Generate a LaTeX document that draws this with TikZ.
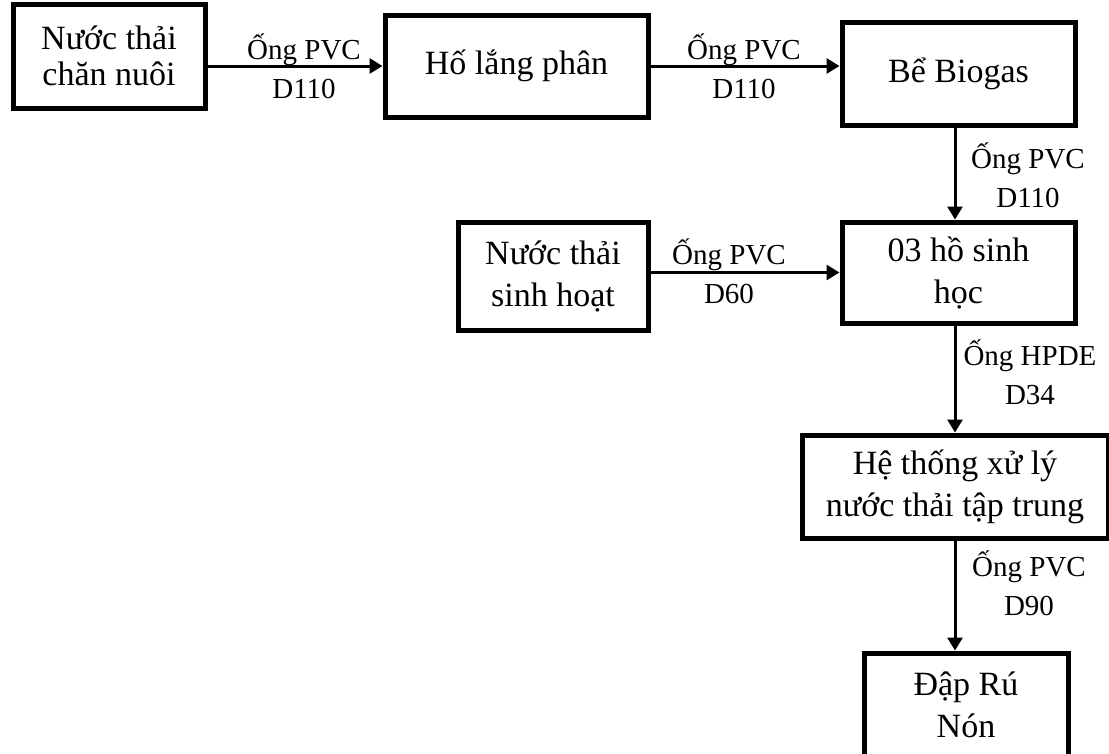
\documentclass[tikz,border=0pt]{standalone}
\usepackage{fontspec}
\setmainfont{Liberation Serif}
\usepackage{tikz}
\usetikzlibrary{arrows.meta, positioning}

\begin{document}
\begin{tikzpicture}[x=1pt, y=-1pt,
    >={Triangle[length=13pt, width=15pt]},
    hop/.style={draw, line width=5pt, align=center, inner sep=0pt,
        font=\fontsize{34}{42}\selectfont},
    ong/.style={align=center, inner sep=0pt, font=\fontsize{29}{39}\selectfont},
    dong/.style={->, line width=3pt}]

    % =================================================================
    % 1. KHUNG HÌNH
    % =================================================================
    \useasboundingbox (0,0) rectangle (1109,753);
    \clip (0,0) rectangle (1109,753);

    % =================================================================
    % 2. CÁC KHỐI
    % =================================================================
    \node[hop, minimum width=192pt, minimum height=104pt, font=\fontsize{34}{36}\selectfont] (chanNuoi) at (109,56)
        {\raisebox{-4pt}{Nước thải}\\\raisebox{-4pt}{chăn nuôi}};
    \node[hop, minimum width=263pt, minimum height=102pt] (hoLang) at (516.5,66) {Hố lắng phân};
    \node[hop, minimum width=233pt, minimum height=103pt] (bioGas) at (958.5,73.5) {Bể Biogas};
    \node[hop, minimum width=233pt, minimum height=101pt] (hoSinhHoc) at (958.5,272.5) {03 hồ sinh\\học};
    \node[hop, minimum width=190pt, minimum height=108pt] (sinhHoat) at (553,276) {Nước thải\\sinh hoạt};
    \node[hop, minimum width=306pt, minimum height=103pt] (xuLy) at (955,486.5) {Hệ thống xử lý\\nước thải tập trung};
    \node[hop, minimum width=204pt, minimum height=104pt] (dapRu) at (966,705) {Đập Rú\\Nón};

    % =================================================================
    % 3. CÁC ĐƯỜNG ỐNG
    % =================================================================
    \draw[dong] (chanNuoi.east |- hoLang.west) -- (hoLang.west);
    \draw[dong] (hoLang.east) -- (bioGas.west |- hoLang.east);
    \draw[dong] (bioGas.south -| xuLy.north) -- (hoSinhHoc.north -| xuLy.north);
    \draw[dong] (sinhHoat.east |- hoSinhHoc.west) -- (hoSinhHoc.west);
    \draw[dong] (hoSinhHoc.south -| xuLy.north) -- (xuLy.north);
    \draw[dong] (xuLy.south) -- (dapRu.north -| xuLy.south);

    % =================================================================
    % 4. NHÃN ỐNG
    % =================================================================
    \node[ong] (ong1) at (304,66.5) {Ống PVC\\D110};
    \node[ong] (ong2) at (744,66.5) {Ống PVC\\D110};
    \node[ong] (ong3) at (1028,175.5) {Ống PVC\\D110};
    \node[ong] (ong4) at (729,271.5) {Ống PVC\\D60};
    \node[ong] (ong5) at (1030,372) {Ống HPDE\\D34};
    \node[ong] (ong6) at (1029,583.5) {Ống PVC\\D90};

\end{tikzpicture}
\end{document}
